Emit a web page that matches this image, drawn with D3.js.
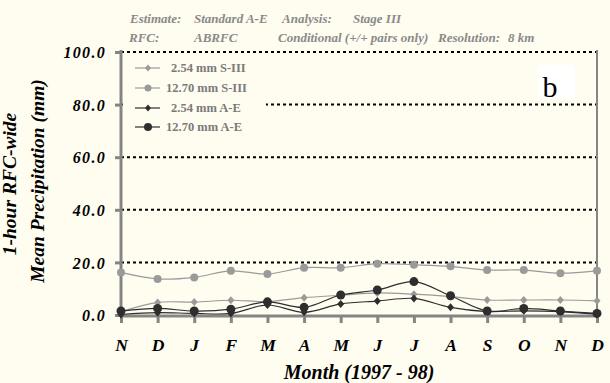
<!DOCTYPE html>
<html>
<head>
<meta charset="utf-8">
<script src="https://cdn.jsdelivr.net/npm/d3@7"></script>
<style>
  html, body { margin: 0; padding: 0; background: #fffcf0; }
  svg { display: block; }
  text { font-family: "Liberation Serif", "Times New Roman", serif; }
</style>
</head>
<body>
<svg id="chart" width="610" height="383"></svg>
<script>
// ---- data ----
const months = ["N","D","J","F","M","A","M","J","J","A","S","O","N","D"];
const s254SIII = [1.2, 4.8, 4.9, 5.6, 5.1, 6.6, 7.5, 8.4, 7.9, 7.0, 5.7, 5.7, 5.7, 5.4];
const s1270SIII = [16.2, 13.7, 14.3, 16.8, 15.6, 18.0, 18.0, 19.5, 19.1, 18.5, 17.1, 17.1, 15.9, 16.8];
const s254AE = [0.2, 0.9, 0.6, 0.6, 3.8, 1.0, 4.2, 5.3, 6.3, 2.9, 1.3, 1.6, 1.3, 0.3];
const s1270AE = [1.5, 2.5, 1.5, 2.2, 5.0, 2.9, 7.6, 9.5, 12.7, 7.3, 1.5, 2.5, 1.5, 0.6];
const yTicks = [0, 20, 40, 60, 80, 100];
const seriesNames = ["2.54 mm S-III", "12.70 mm S-III", "2.54 mm A-E", "12.70 mm A-E"];

const svg = d3.select("#chart");
const bg = "#fffcf0";
svg.append("rect").attr("width", 610).attr("height", 383).attr("fill", bg);

const x = d3.scaleLinear().domain([0, months.length - 1]).range([121, 597]);
const y = d3.scaleLinear().domain([0, 100]).range([315, 52]);

const grey = "#858585";

// gridlines
svg.append("g").selectAll("line").data(yTicks.filter(d => d > 0)).join("line")
  .attr("x1", x(0)).attr("x2", x(13))
  .attr("y1", d => y(d)).attr("y2", d => y(d))
  .attr("stroke", "#000").attr("stroke-width", 2).attr("stroke-dasharray", "3,3");

// legend box cover (hides gridline behind legend)
svg.append("rect").attr("x", 123).attr("y", 56).attr("width", 143).attr("height", 80).attr("fill", bg);

// "b" panel label
svg.append("rect").attr("x", 538).attr("y", 65).attr("width", 37).attr("height", 34).attr("fill", "#ffffff");
svg.append("text").attr("x", 550).attr("y", 97).attr("text-anchor", "middle")
  .attr("font-size", 30).attr("fill", "#000").text("b");

// y axis
const yAxis = d3.axisLeft(y).tickValues(yTicks).tickSize(6).tickFormat(d => d3.format(".1f")(d));
const gy = svg.append("g").attr("transform", `translate(${x(0)},0)`).call(yAxis);
gy.select(".domain").remove();
gy.selectAll(".tick line").attr("stroke", grey).attr("stroke-width", 3);
gy.selectAll(".tick text").attr("x", -15).attr("dy", "0.35em")
  .attr("font-size", 16).attr("font-weight", "bold").attr("font-style", "italic")
  .attr("letter-spacing", 1.3).attr("fill", "#000");

// x axis
const xAxis = d3.axisBottom(x).tickValues(d3.range(months.length)).tickSize(8).tickFormat(i => months[i]);
const gx = svg.append("g").attr("transform", `translate(0,${y(0)})`).call(xAxis);
gx.select(".domain").remove();
gx.selectAll(".tick line").attr("stroke", grey).attr("stroke-width", 3);
gx.selectAll(".tick text").attr("y", 24)
  .attr("font-size", 17.5).attr("font-weight", "bold").attr("font-style", "italic").attr("fill", "#000");

// axis lines and right border
svg.append("line").attr("x1", x(0)).attr("x2", x(0)).attr("y1", y(100) - 2).attr("y2", y(0) + 2)
  .attr("stroke", grey).attr("stroke-width", 3);
svg.append("line").attr("x1", x(13)).attr("x2", x(13)).attr("y1", y(100) - 2).attr("y2", y(0) + 2)
  .attr("stroke", grey).attr("stroke-width", 2);
svg.append("line").attr("x1", x(0)).attr("x2", x(13)).attr("y1", y(0) + 1).attr("y2", y(0) + 1)
  .attr("stroke", grey).attr("stroke-width", 3);

// series
const light = "#9a9a9a", dark = "#2e2e2e";
const series = [
  { name: seriesNames[1], values: s1270SIII, color: light, marker: "circle", r: 4 },
  { name: seriesNames[0], values: s254SIII, color: light, marker: "diamond", r: 3.5 },
  { name: seriesNames[2], values: s254AE, color: dark, marker: "diamond", r: 3.5 },
  { name: seriesNames[3], values: s1270AE, color: dark, marker: "circle", r: 4.5 },
];
const line = d3.line().x((d, i) => x(i)).y(d => y(d)).curve(d3.curveCatmullRom.alpha(0.5));

function marker(g, type, r, color) {
  if (type === "circle") {
    return g.append("circle").attr("r", r).attr("fill", color);
  } else {
    return g.append("path").attr("d", `M0,${-r - 0.5}L${r},0L0,${r + 0.5}L${-r},0Z`).attr("fill", color);
  }
}

series.forEach(s => {
  const g = svg.append("g");
  g.append("path").datum(s.values).attr("d", line)
    .attr("fill", "none").attr("stroke", s.color).attr("stroke-width", 1.2);
  s.values.forEach((v, i) => {
    const mg = g.append("g").attr("transform", `translate(${x(i)},${y(v)})`);
    marker(mg, s.marker, s.r, s.color);
  });
});

// legend
const legendItems = [
  { name: seriesNames[0], color: light, marker: "diamond", r: 3 },
  { name: seriesNames[1], color: light, marker: "circle", r: 3.5 },
  { name: seriesNames[2], color: dark, marker: "diamond", r: 3 },
  { name: seriesNames[3], color: dark, marker: "circle", r: 4 },
];
const legendY = [68, 88, 108, 127];
legendItems.forEach((it, i) => {
  const g = svg.append("g").attr("transform", `translate(0,${legendY[i]})`);
  g.append("line").attr("x1", 135).attr("x2", 160).attr("stroke", it.color).attr("stroke-width", 1.2);
  const mg = g.append("g").attr("transform", "translate(148,0)");
  marker(mg, it.marker, it.r, it.color);
  g.append("text").attr("x", it.name.startsWith("2.54") ? 171 : 166).attr("dy", "0.35em")
    .attr("font-size", 12.5).attr("font-weight", "bold").attr("fill", "#7a7a7a").text(it.name);
});

// header text
const hdr = svg.append("g").attr("font-size", 13).attr("font-style", "italic")
  .attr("font-weight", "bold").attr("fill", "#8a8a8a");
[
  [130, 23, "Estimate:"], [194, 23, "Standard A-E"], [282, 23, "Analysis:"], [353, 23, "Stage III"],
  [129, 42, "RFC:"], [194, 42, "ABRFC"], [278, 42, "Conditional (+/+ pairs only)"],
  [438, 42, "Resolution:"], [508, 42, "8 km"]
].forEach(([tx, ty, t]) => hdr.append("text").attr("x", tx).attr("y", ty).text(t));

// axis titles
svg.append("text").attr("transform", "translate(359,379)").attr("text-anchor", "middle")
  .attr("font-size", 20).attr("font-weight", "bold").attr("font-style", "italic").attr("fill", "#000")
  .text("Month (1997 - 98)");
svg.append("text").attr("transform", "translate(16,184) rotate(-90)").attr("text-anchor", "middle")
  .attr("font-size", 19.5).attr("font-weight", "bold").attr("font-style", "italic").attr("fill", "#000")
  .text("1-hour RFC-wide");
svg.append("text").attr("transform", "translate(44,181) rotate(-90)").attr("text-anchor", "middle")
  .attr("font-size", 19.5).attr("font-weight", "bold").attr("font-style", "italic").attr("fill", "#000")
  .text("Mean Precipitation (mm)");
</script>
</body>
</html>
